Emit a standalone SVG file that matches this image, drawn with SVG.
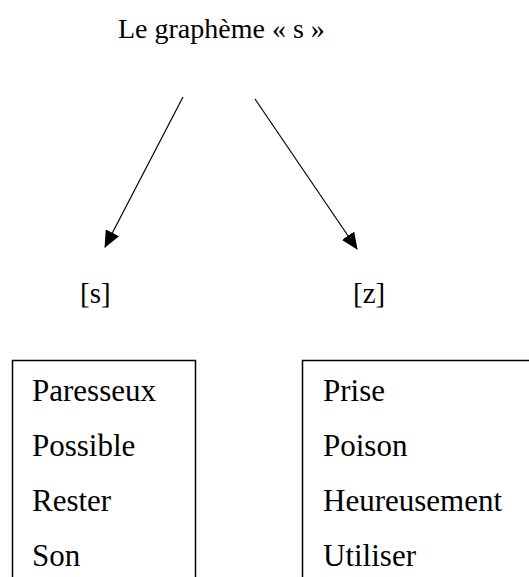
<svg xmlns="http://www.w3.org/2000/svg" width="529" height="577" viewBox="0 0 529 577">
<defs>
<style>
text{font-family:"Liberation Serif","Times New Roman",serif;font-size:28px;fill:#000}
.w{font-size:31px}
.l{font-size:29px}
.box{fill:none;stroke:#000;stroke-width:1.5}
.con{stroke:#000;stroke-width:1.2;fill:none}
</style>
<marker id="ah" markerWidth="17" markerHeight="15" refX="16" refY="7.5" orient="auto" markerUnits="userSpaceOnUse">
<path d="M0,0 L17,7.5 L0,15 Z" fill="#000"/>
</marker>
</defs>
<rect width="529" height="577" fill="#fff"/>
<g id="title"><text x="118" y="38">Le graphème « s »</text></g>
<g id="connectors">
<line class="con" x1="183" y1="97" x2="105" y2="247" marker-end="url(#ah)"/>
<line class="con" x1="255" y1="99" x2="357" y2="249" marker-end="url(#ah)"/>
</g>
<g id="s-label"><text class="l" x="80" y="303">[s]</text></g>
<g id="z-label"><text class="l" x="353" y="303">[z]</text></g>
<g id="s-box">
<path class="box" d="M12.5,580 V360.5 H195.5 V580"/>
<text class="w" x="32" y="401">Paresseux</text>
<text class="w" x="32" y="456">Possible</text>
<text class="w" x="32" y="511">Rester</text>
<text class="w" x="32" y="566">Son</text>
</g>
<g id="z-box">
<path class="box" d="M302.5,580 V360.5 H535"/>
<text class="w" x="323" y="401">Prise</text>
<text class="w" x="323" y="456">Poison</text>
<text class="w" x="323" y="511">Heureusement</text>
<text class="w" x="323" y="566">Utiliser</text>
</g>
</svg>
